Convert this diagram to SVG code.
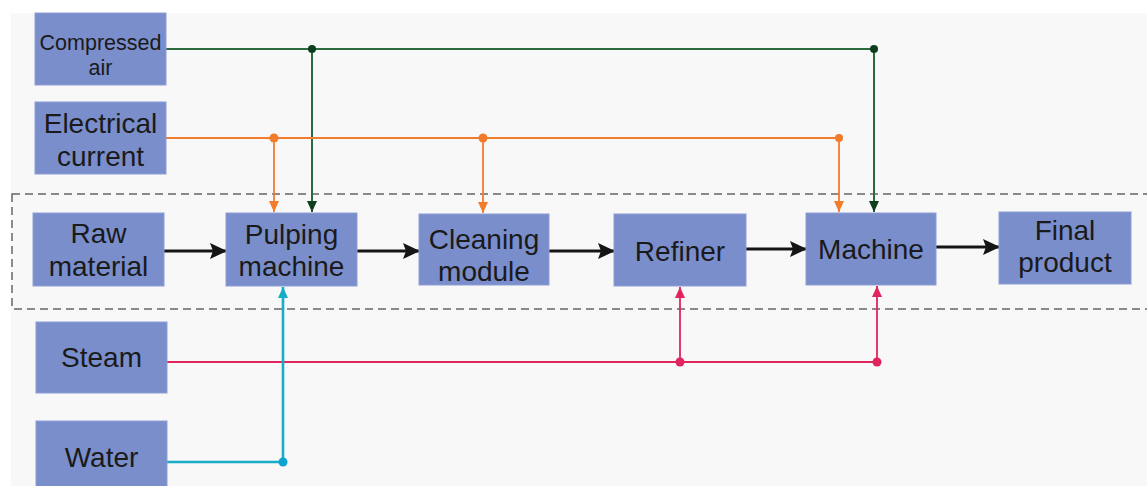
<svg xmlns="http://www.w3.org/2000/svg" width="1147" height="486" viewBox="0 0 1147 486">
  <style>
    .box { fill: #7b8ecc; stroke: #8d9ed4; stroke-width: 1; }
    .lbl { font-family: "Liberation Sans", Arial, sans-serif; font-size: 28px; fill: #1a1a1a; text-anchor: middle; }
    .sm { font-size: 21.5px; }
    .flow { stroke: #151515; stroke-width: 3; fill: none; }
    .green { stroke: #2a6a3c; stroke-width: 2; fill: none; }
    .orange { stroke: #f27b2c; stroke-width: 1.8; fill: none; }
    .pink { stroke: #e0245e; stroke-width: 1.8; fill: none; }
    .cyan { stroke: #17adc7; stroke-width: 2.6; fill: none; }
  </style>
  <defs>
    <marker id="ab" markerUnits="userSpaceOnUse" markerWidth="18" markerHeight="16" refX="16" refY="8" orient="auto">
      <path d="M0,0 L17,8 L0,16 L3,8 Z" fill="#151515"/>
    </marker>
    <marker id="ag" markerUnits="userSpaceOnUse" markerWidth="12" markerHeight="10" refX="11" refY="5" orient="auto">
      <path d="M0,0 L11,5 L0,10 Z" fill="#0d3f1e"/>
    </marker>
    <marker id="ao" markerUnits="userSpaceOnUse" markerWidth="12" markerHeight="10" refX="11" refY="5" orient="auto">
      <path d="M0,0 L11,5 L0,10 Z" fill="#f27b2c"/>
    </marker>
    <marker id="ap" markerUnits="userSpaceOnUse" markerWidth="12" markerHeight="10" refX="11" refY="5" orient="auto">
      <path d="M0,0 L11,5 L0,10 Z" fill="#e0245e"/>
    </marker>
    <marker id="ac" markerUnits="userSpaceOnUse" markerWidth="12" markerHeight="10" refX="11" refY="5" orient="auto">
      <path d="M0,0 L11,5 L0,10 Z" fill="#17adc7"/>
    </marker>
  </defs>

  <rect x="0" y="0" width="1147" height="486" fill="#ffffff"/>
  <rect x="11" y="13" width="1136" height="473" fill="#f8f8f8"/>

  <rect id="process-zone" x="12" y="194" width="1150" height="115" fill="none" stroke="#666666" stroke-width="1.5" stroke-dasharray="8 5"/>

  <g id="connectors">
    <!-- compressed air -->
    <path class="green" d="M166,49 H874"/>
    <path class="green" d="M312,49 V212" marker-end="url(#ag)"/>
    <path class="green" d="M874,49 V212" marker-end="url(#ag)"/>
    <circle cx="312" cy="49" r="4" fill="#0d3f1e"/>
    <circle cx="874" cy="49" r="4" fill="#0d3f1e"/>
    <!-- electrical current -->
    <path class="orange" d="M166,138 H839"/>
    <path class="orange" d="M274,138 V212" marker-end="url(#ao)"/>
    <path class="orange" d="M483,138 V213" marker-end="url(#ao)"/>
    <path class="orange" d="M839,138 V212" marker-end="url(#ao)"/>
    <circle cx="274" cy="138" r="4.5" fill="#f27b2c"/>
    <circle cx="483" cy="138" r="4.5" fill="#f27b2c"/>
    <circle cx="839" cy="138" r="4" fill="#f27b2c"/>
    <!-- steam -->
    <path class="pink" d="M167,362 H877"/>
    <path class="pink" d="M680,362 V287" marker-end="url(#ap)"/>
    <path class="pink" d="M877,362 V286" marker-end="url(#ap)"/>
    <circle cx="680" cy="362" r="4.5" fill="#e0245e"/>
    <circle cx="877" cy="362" r="4.5" fill="#e0245e"/>
    <!-- water -->
    <path class="cyan" d="M167,462 H283 V287" marker-end="url(#ac)"/>
    <circle cx="283" cy="462" r="4.5" fill="#0ea4cf"/>
    <!-- main flow -->
    <path class="flow" d="M162,251 H226" marker-end="url(#ab)"/>
    <path class="flow" d="M357,251 H419" marker-end="url(#ab)"/>
    <path class="flow" d="M549,251 H614" marker-end="url(#ab)"/>
    <path class="flow" d="M742,249 H806" marker-end="url(#ab)"/>
    <path class="flow" d="M934,247 H999" marker-end="url(#ab)"/>
  </g>

  <g id="compressed-air">
    <rect class="box" x="35" y="13" width="131" height="72"/>
    <text class="lbl sm" x="100.5" y="50">Compressed</text>
    <text class="lbl sm" x="100.5" y="75">air</text>
  </g>
  <g id="electrical-current">
    <rect class="box" x="35" y="102" width="131" height="72"/>
    <text class="lbl" x="100.5" y="133">Electrical</text>
    <text class="lbl" x="100.5" y="166">current</text>
  </g>
  <g id="raw-material">
    <rect class="box" x="33" y="213" width="131" height="73"/>
    <text class="lbl" x="98.5" y="243">Raw</text>
    <text class="lbl" x="98.5" y="276">material</text>
  </g>
  <g id="pulping-machine">
    <rect class="box" x="226" y="213" width="131" height="73"/>
    <text class="lbl" x="291.5" y="244">Pulping</text>
    <text class="lbl" x="291.5" y="276">machine</text>
  </g>
  <g id="cleaning-module">
    <rect class="box" x="419" y="214" width="130" height="71"/>
    <text class="lbl" x="484" y="249">Cleaning</text>
    <text class="lbl" x="484" y="281">module</text>
  </g>
  <g id="refiner">
    <rect class="box" x="614" y="214" width="132" height="72"/>
    <text class="lbl" x="680" y="261">Refiner</text>
  </g>
  <g id="machine">
    <rect class="box" x="806" y="213" width="130" height="72"/>
    <text class="lbl" x="871" y="259">Machine</text>
  </g>
  <g id="final-product">
    <rect class="box" x="999" y="212" width="132" height="72"/>
    <text class="lbl" x="1065" y="240">Final</text>
    <text class="lbl" x="1065" y="272">product</text>
  </g>
  <g id="steam">
    <rect class="box" x="36" y="322" width="131" height="71"/>
    <text class="lbl" x="101.5" y="367">Steam</text>
  </g>
  <g id="water">
    <rect class="box" x="36" y="421" width="131" height="70"/>
    <text class="lbl" x="101.5" y="467">Water</text>
  </g>
</svg>
